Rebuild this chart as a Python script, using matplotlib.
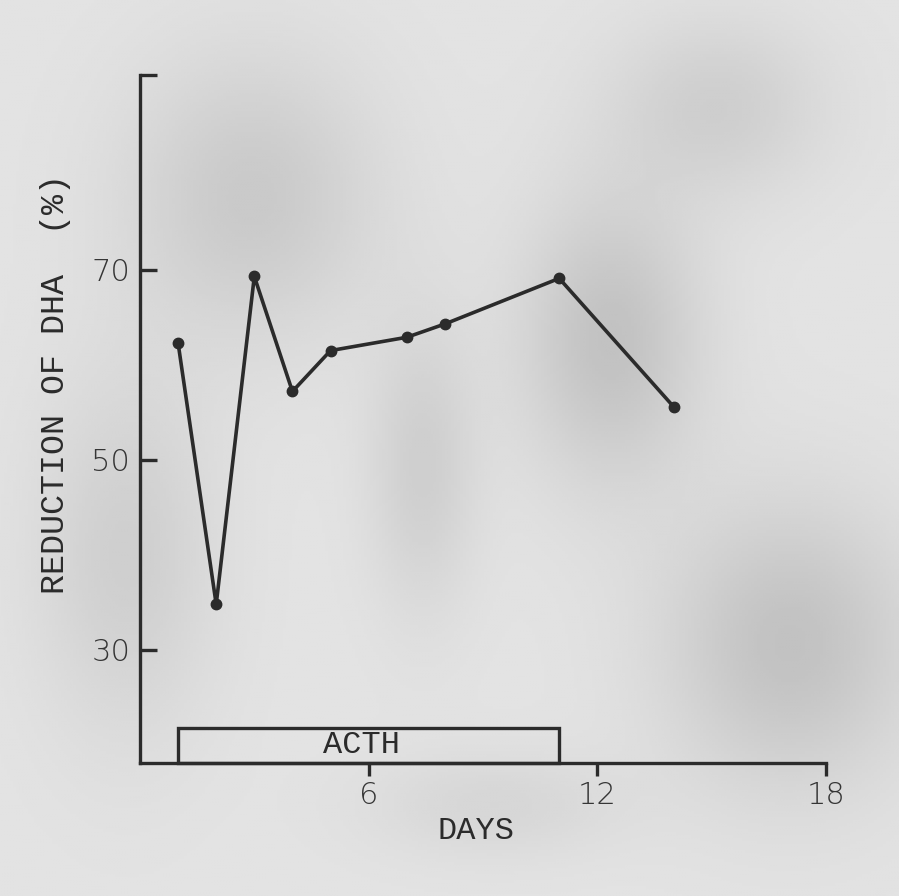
import numpy as np
import matplotlib
matplotlib.use("Agg")
import matplotlib.pyplot as plt
from matplotlib.patches import Rectangle

# Reduction of DHA (%) by day, with the ACTH course marked along the axis
days = [1, 2, 3, 4, 5, 7, 8, 11, 14]
reduction = [62.3, 34.8, 69.3, 57.2, 61.5, 62.9, 64.3, 69.1, 55.6]
acth_start, acth_end = 1, 11
x_ticks = [6, 12, 18]
y_ticks = [30, 50, 70]

ink = "#2b2b2b"
paper = "#dadada"

fig = plt.figure(figsize=(8.99, 8.96), dpi=100)
fig.patch.set_facecolor(paper)

# mottled paper tone: a few soft shaded patches behind the chart
bg = fig.add_axes([0, 0, 1, 1], zorder=-10)
gx, gy = np.meshgrid(np.linspace(0, 1, 300), np.linspace(0, 1, 300))
shade = np.full_like(gx, 0.89)
patches_spec = [  # (cx, cy, rx, ry, depth) in figure fraction, y from top
    (0.28, 0.22, 0.14, 0.16, 0.10),
    (0.68, 0.38, 0.10, 0.16, 0.13),
    (0.88, 0.72, 0.14, 0.16, 0.13),
    (0.14, 0.62, 0.10, 0.20, 0.08),
    (0.47, 0.52, 0.06, 0.16, 0.08),
    (0.80, 0.12, 0.12, 0.10, 0.08),
    (0.55, 0.90, 0.14, 0.06, 0.05),
]
for cx, cy, rx, ry, d in patches_spec:
    shade -= d * np.exp(-(((gx - cx) / rx) ** 2 + ((gy - cy) / ry) ** 2))
bg.imshow(shade, cmap="gray", vmin=0, vmax=1, extent=[0, 1, 1, 0],
          aspect="auto", interpolation="bilinear")
bg.set_xlim(0, 1)
bg.set_ylim(1, 0)
bg.axis("off")

ax = fig.add_axes([0.1557, 0.1484, 0.7631, 0.7679])
ax.set_facecolor("none")
ax.set_xlim(0, 18)
ax.set_ylim(18.1, 90.5)

for side in ("top", "right"):
    ax.spines[side].set_visible(False)
for side in ("left", "bottom"):
    ax.spines[side].set_color(ink)
    ax.spines[side].set_linewidth(2.4)

mono = "Liberation Mono"
ax.set_xticks(x_ticks)
ax.set_yticks(y_ticks + [90.5])
ax.set_yticklabels([str(v) for v in y_ticks] + [""])
ax.tick_params(axis="x", direction="out", length=9, width=2.4, color=ink,
               labelsize=22, labelcolor="#353535", pad=4)
ax.tick_params(axis="y", direction="in", length=12, width=2.4, color=ink,
               labelsize=22, labelcolor="#353535", pad=7)
for lab in ax.get_xticklabels() + ax.get_yticklabels():
    lab.set_family("DejaVu Sans")
    lab.set_fontweight("light")

# ACTH period box
ax.add_patch(Rectangle((acth_start, 18.1), acth_end - acth_start, 21.8 - 18.1,
                       facecolor="none", edgecolor=ink, linewidth=2.4,
                       clip_on=False, zorder=3))
ax.text((acth_start + acth_end) / 2 - 0.2, 19.95, "ACTH", family=mono,
        fontsize=23, color=ink, ha="center", va="center")

ax.plot(days, reduction, color=ink, linewidth=2.6, marker="o",
        markersize=7.5, markerfacecolor=ink, markeredgecolor=ink,
        clip_on=False, zorder=4)

ax.set_xlabel("DAYS", family=mono, fontsize=23, color=ink)
ax.xaxis.set_label_coords(0.49, -0.077)
ax.set_ylabel("REDUCTION OF DHA  (%)", family=mono, fontsize=24, color=ink)
ax.yaxis.set_label_coords(-0.100, 0.551)

fig.savefig("out.png", dpi=100, facecolor=fig.get_facecolor())
